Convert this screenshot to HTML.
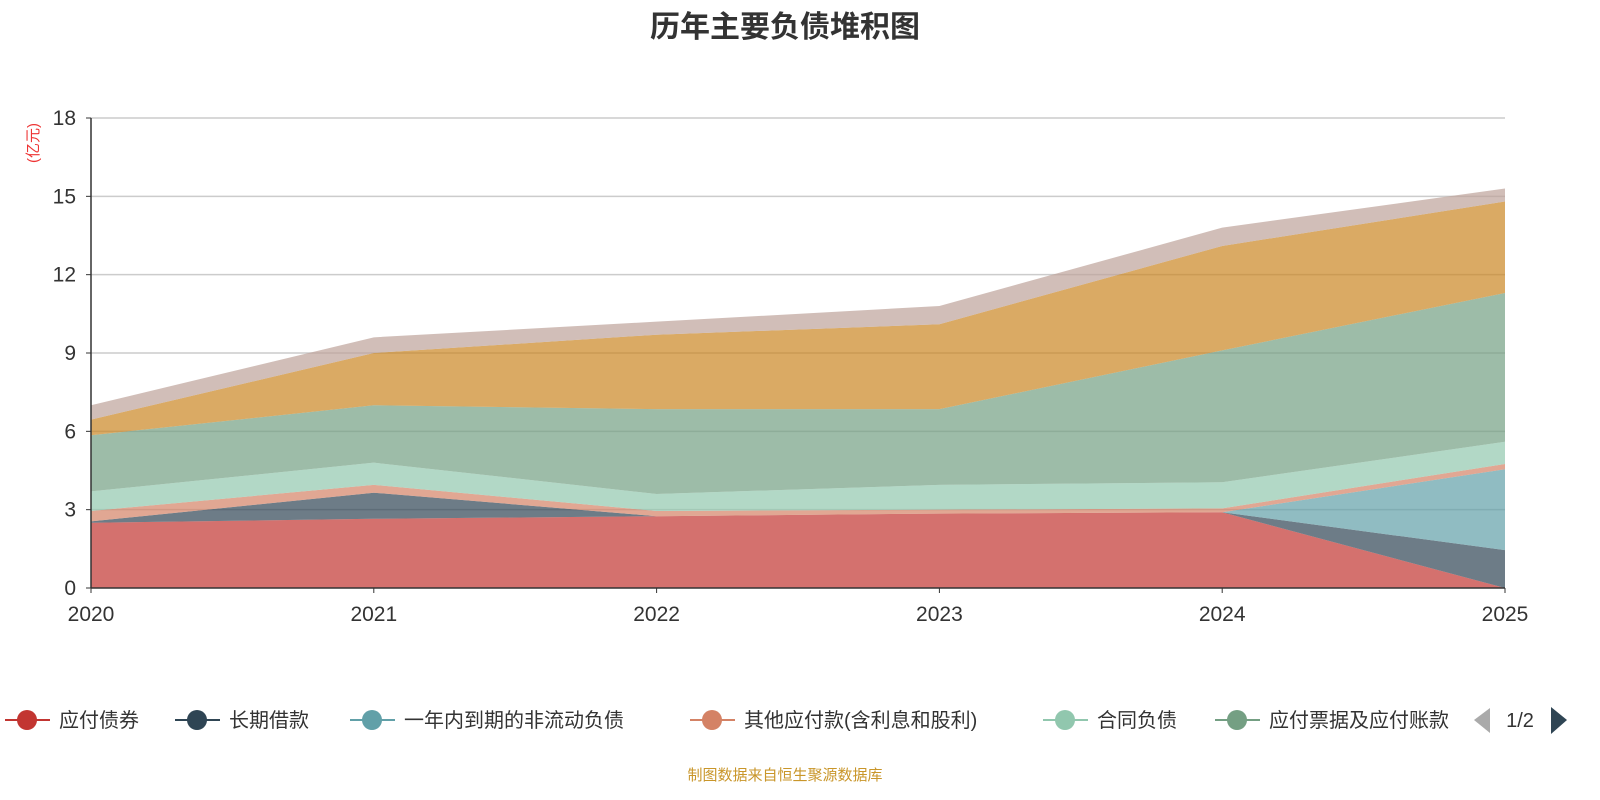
<!DOCTYPE html>
<html><head><meta charset="utf-8">
<style>
html,body{margin:0;padding:0;overflow:hidden;background:#fff;width:1600px;height:800px;font-family:"Liberation Sans","Noto Sans CJK SC",sans-serif;}
svg{display:block;}
svg text{font-family:"Liberation Sans","Noto Sans CJK SC",sans-serif;}
</style></head>
<body>
<svg id="chart" width="1600" height="800">
<defs><clipPath id="legclip"><rect x="0" y="690" width="1462" height="60"/></clipPath></defs>
<text x="785" y="37" text-anchor="middle" font-size="30" font-weight="bold" fill="#333">历年主要负债堆积图</text>
<text transform="translate(38,143) rotate(-90)" text-anchor="middle" font-size="15" fill="#e33">(亿元)</text>
<g id="grid"></g>
<g id="areas"></g>
<g id="axes"></g>
<g id="legend" clip-path="url(#legclip)"></g>
<g id="pager"></g>
<text x="785" y="780" text-anchor="middle" font-size="15" fill="#c9962a">制图数据来自恒生聚源数据库</text>
</svg>
<script>
const years=["2020","2021","2022","2023","2024","2025"];
const yTicks=[0,3,6,9,12,15,18];
const seriesNames=["应付债券","长期借款","一年内到期的非流动负债","其他应付款(含利息和股利)","合同负债","应付票据及应付账款","预收款项","其他"];
const s0=[2.5,2.65,2.75,2.85,2.9,0];
const s1=[0.05,1.0,0,0,0,1.45];
const s2=[0,0,0,0,0,3.1];
const s3=[0.4,0.3,0.2,0.15,0.15,0.2];
const s4=[0.75,0.85,0.65,0.95,1.0,0.85];
const s5=[2.15,2.2,3.25,2.9,5.05,5.7];
const s6=[0.6,2.0,2.85,3.25,4.0,3.5];
const s7=[0.55,0.6,0.5,0.7,0.7,0.5];
const series=[s0,s1,s2,s3,s4,s5,s6,s7];
const colors=["#c23531","#2f4554","#61a0a8","#d48265","#91c7ae","#749f83","#ca8622","#bda29a"];
const NS="http://www.w3.org/2000/svg";
const x0=91,x1=1505,yb=588,yt=118,ymax=18;
const X=i=>x0+(x1-x0)*i/(years.length-1);
const Y=v=>yb-(yb-yt)*v/ymax;
function mk(t,a,p){const e=document.createElementNS(NS,t);for(const k in a)e.setAttribute(k,a[k]);p.appendChild(e);return e;}
const grid=document.getElementById('grid'),axes=document.getElementById('axes'),areas=document.getElementById('areas');
yTicks.forEach(v=>{
 if(v>0){const l=mk('line',{x1:x0,x2:x1,y1:Y(v),y2:Y(v),stroke:'#ccc','stroke-width':1.5},grid);
 
 }
 const t=mk('text',{x:76,y:Y(v)+7,'text-anchor':'end','font-size':21,fill:'#333'},axes);t.textContent=v;
 
 
 mk('line',{x1:x0-5,x2:x0,y1:Y(v),y2:Y(v),stroke:'#333'},axes);
});
years.forEach((y,i)=>{
 const t=mk('text',{x:X(i),y:621,'text-anchor':'middle','font-size':21,fill:'#333'},axes);t.textContent=y;
 
 
 mk('line',{x1:X(i),x2:X(i),y1:yb,y2:yb+5,stroke:'#333'},axes);
});
mk('line',{x1:x0,x2:x0,y1:yt,y2:yb,stroke:'#333','stroke-width':1.5},axes);
mk('line',{x1:x0,x2:x1,y1:yb,y2:yb,stroke:'#333','stroke-width':1.5},axes);
let cum=years.map(()=>0);
series.forEach((s,k)=>{
 const lo=cum.slice();cum=cum.map((c,i)=>c+s[i]);
 let d='M'+cum.map((v,i)=>X(i)+','+Y(v)).join('L');
 for(let i=years.length-1;i>=0;i--)d+='L'+X(i)+','+Y(lo[i]);
 const p=mk('path',{d:d+'Z',fill:colors[k],'fill-opacity':0.7},areas);
 
 
});
const leg=document.getElementById('legend');
const lx=[5,175,350,690,1043,1215];
lx.forEach((x,k)=>{
 const g=mk('g',{},leg);
 
 
 mk('line',{x1:x,x2:x+45,y1:720,y2:720,stroke:colors[k],'stroke-width':2},g);
 mk('circle',{cx:x+22,cy:720,r:10,fill:colors[k]},g);
 const t=mk('text',{x:x+54,y:727,'font-size':20,fill:'#333'},g);t.textContent=seriesNames[k];
});
const pg=mk('g',{},document.getElementById('pager'));


mk('path',{d:'M1490,708L1474,720L1490,733Z',fill:'#aaa'},pg);
const pt=mk('text',{x:1520,y:727,'text-anchor':'middle','font-size':20,fill:'#333'},pg);pt.textContent='1/2';
mk('path',{d:'M1551,707L1567,720L1551,734Z',fill:'#2f4554'},pg);
</script>
</body></html>
